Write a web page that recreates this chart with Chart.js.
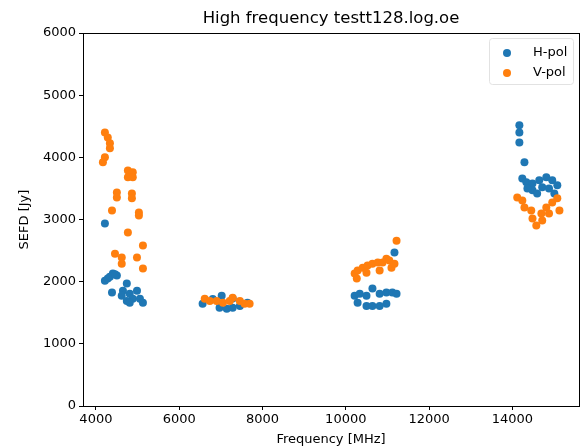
<!DOCTYPE html>
<html>
<head>
<meta charset="utf-8">
<script src="https://cdn.jsdelivr.net/npm/chart.js@4/dist/chart.umd.min.js"></script>
<style>
  html, body { margin: 0; padding: 0; background: #fff; }
  #wrap { width: 583px; height: 447px; }
</style>
</head>
<body>
<div id="wrap"><canvas id="chart" width="583" height="447"></canvas></div>
<script>
// values
const hFreq = [4216, 4407, 4285, 4216, 4503, 4386, 4742, 4649, 4620, 4812, 4986, 4885, 5057, 5129, 4742, 4812, 4336, 4458,
  6562, 6806, 6969, 7142, 7284, 7457, 7640, 7284, 7020,
  10213, 10335, 10497, 10640, 10813, 10975, 11118, 11219, 10497, 10640, 10813, 10975, 10284, 11169,
  14168, 14168, 14168, 14290, 14239, 14336, 14483, 14646, 14815, 14957, 15079, 14717, 14880, 14483, 14595, 15008, 14361];
const hSefd = [2935, 2130, 2050, 2015, 2100, 1825, 1970, 1855, 1775, 1805, 1855, 1725, 1725, 1660, 1690, 1660, 2080, 2120,
  1645, 1720, 1580, 1565, 1580, 1610, 1660, 1730, 1775,
  1775, 1805, 1775, 1890, 1805, 1825, 1825, 1805, 1610, 1610, 1610, 1645, 1660, 2470,
  4515, 4400, 4240, 3920, 3660, 3600, 3580, 3630, 3680, 3630, 3550, 3520, 3500, 3470, 3420, 3420, 3500];

const vFreq = [4216, 4285, 4336, 4336, 4216, 4168, 4768, 4885, 4768, 4885, 4503, 4503, 4864, 4864, 4386, 5032, 5032,
  4768, 5129, 4458, 4620, 4986, 4620, 5129,
  6613, 6735, 6898, 7050, 7213, 7284, 7457, 7569, 7691,
  10213, 10284, 10406, 10523, 10640, 10768, 10884, 10975, 11046, 11097, 11169, 10264, 10497, 10813, 11219,
  14117, 14239, 14290, 14453, 14483, 14575, 14697, 14815, 14880, 14957, 15079, 15130, 14717];
const vSefd = [4400, 4320, 4225, 4145, 4000, 3920, 3790, 3760, 3680, 3680, 3435, 3355, 3420, 3340, 3145, 3113, 3065,
  2790, 2580, 2450, 2390, 2390, 2290, 2210,
  1725, 1690, 1690, 1660, 1690, 1740, 1690, 1645, 1645,
  2130, 2180, 2225, 2260, 2290, 2310, 2310, 2370, 2340, 2225, 2290, 2050, 2145, 2180, 2660,
  3355, 3305, 3195, 3145, 3015, 2905, 3095, 3195, 3095, 3275, 3340, 3145, 2985];

const xTicks = [4000, 6000, 8000, 10000, 12000, 14000];
const yTicks = [0, 1000, 2000, 3000, 4000, 5000, 6000];
const chartTitle = 'High frequency testt128.log.oe';

const toPoints = (xs, ys) => xs.map((x, i) => ({ x: x, y: ys[i] }));

const font = "'DejaVu Sans', sans-serif";
Chart.defaults.font.family = font;
Chart.defaults.color = '#000';

// box around the plot, title over the plot and the legend inside it, matplotlib style
const frame = {
  id: 'frame',
  afterDraw(chart) {
    const ctx = chart.ctx;
    const a = chart.chartArea;
    ctx.save();
    ctx.strokeStyle = '#000';
    ctx.lineWidth = 1;
    ctx.strokeRect(Math.round(a.left) + 0.5, Math.round(a.top) + 0.5,
      Math.round(a.right - a.left), Math.round(a.bottom - a.top));

    ctx.fillStyle = '#000';
    ctx.font = '16.5px ' + font;
    ctx.textAlign = 'center';
    ctx.textBaseline = 'middle';
    ctx.fillText(chartTitle, (a.left + a.right) / 2, 18.5);

    const bw = 84, bh = 46;
    const bx = a.right - bw - 6, by = a.top + 5;
    ctx.fillStyle = 'rgba(255,255,255,0.8)';
    ctx.strokeStyle = '#e2e2e2';
    ctx.beginPath();
    ctx.roundRect(bx + 0.5, by + 0.5, bw, bh, 3);
    ctx.fill();
    ctx.stroke();
    ctx.font = '13px ' + font;
    ctx.textAlign = 'left';
    chart.data.datasets.forEach((ds, i) => {
      const y = by + 15 + i * 20;
      ctx.fillStyle = ds.backgroundColor;
      ctx.beginPath();
      ctx.arc(bx + 18, y, 4, 0, Math.PI * 2);
      ctx.fill();
      ctx.fillStyle = '#000';
      ctx.fillText(ds.label, bx + 44, y);
    });
    ctx.restore();
  }
};

const ctx = document.getElementById('chart').getContext('2d');
new Chart(ctx, {
  type: 'scatter',
  data: {
    datasets: [
      { label: 'H-pol', data: toPoints(hFreq, hSefd), backgroundColor: '#1f77b4', borderWidth: 0, pointRadius: 4, order: 2 },
      { label: 'V-pol', data: toPoints(vFreq, vSefd), backgroundColor: '#ff7f0e', borderWidth: 0, pointRadius: 4, order: 1 }
    ]
  },
  plugins: [frame],
  options: {
    responsive: false,
    animation: false,
    layout: { padding: { left: 0, right: 3, top: 33, bottom: 0 } },
    plugins: {
      legend: { display: false },
      tooltip: { enabled: false },
      title: { display: false }
    },
    scales: {
      x: {
        type: 'linear',
        min: 3690,
        max: 15600,
        afterBuildTicks: (s) => { s.ticks = xTicks.map(v => ({ value: v })); },
        afterFit: (s) => { s.height = 41; },
        grid: { display: true, drawOnChartArea: false, drawTicks: true, tickLength: 4, color: '#000' },
        border: { display: false },
        ticks: { font: { size: 13 }, padding: 2, maxRotation: 0, callback: (v) => String(v) },
        title: { display: true, text: 'Frequency [MHz]', font: { size: 13 }, padding: { top: 0, bottom: 0 } }
      },
      y: {
        min: 0,
        max: 6000,
        afterBuildTicks: (s) => { s.ticks = yTicks.map(v => ({ value: v })); },
        afterFit: (s) => { s.width = 83; },
        grid: { display: true, drawOnChartArea: false, drawTicks: true, tickLength: 4, color: '#000' },
        border: { display: false },
        ticks: { font: { size: 13 }, padding: 3, callback: (v) => String(v) },
        title: { display: true, text: 'SEFD [Jy]', font: { size: 13 }, padding: { top: 17, bottom: 0 } }
      }
    }
  }
});
</script>
</body>
</html>
